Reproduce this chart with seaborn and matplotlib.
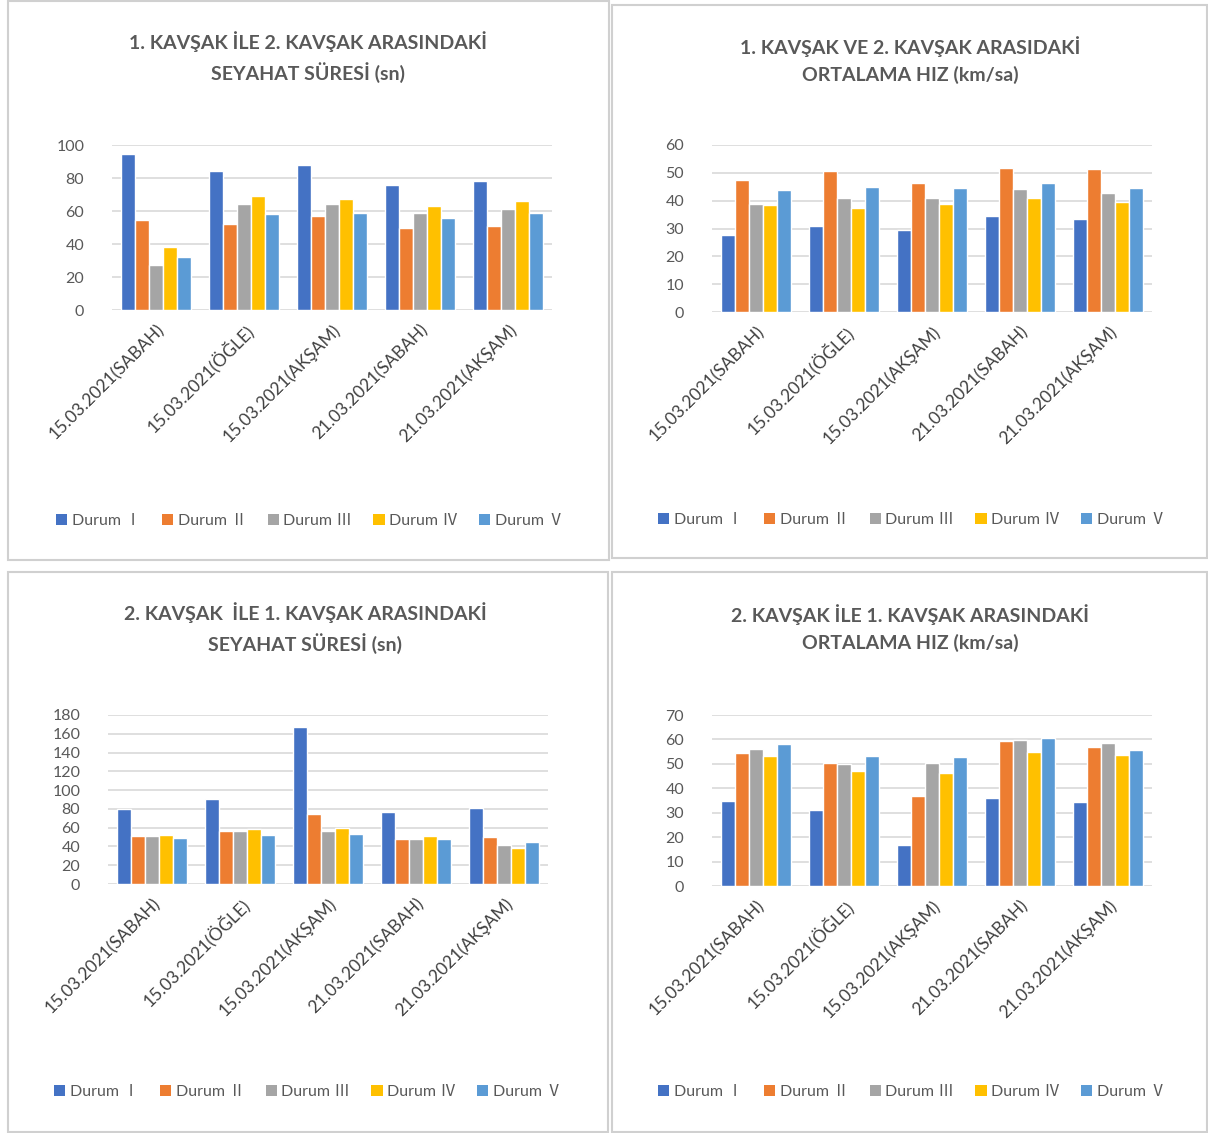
import matplotlib
matplotlib.use("Agg")
import matplotlib.pyplot as plt
import seaborn as sns
import pandas as pd
from matplotlib.patches import Rectangle, Patch

sns.set_theme(style="white")
plt.rcParams['font.family'] = ['Lato', 'Noto Sans CJK JP', 'DejaVu Sans']

categories = ["15.03.2021(SABAH)", "15.03.2021(ÖĞLE)", "15.03.2021(AKŞAM)",
              "21.03.2021(SABAH)", "21.03.2021(AKŞAM)"]
series_names = ["Durum Ⅰ", "Durum Ⅱ", "Durum Ⅲ", "Durum Ⅳ", "Durum Ⅴ"]
colors = ["#4472C4", "#ED7D31", "#A5A5A5", "#FFC000", "#5B9BD5"]

# Panel 1: travel time 1 -> 2 (sn); rows = Durum I..V, columns = categories
time_12 = [
    [94.5, 84, 88, 76, 78],
    [54.5, 52, 57, 50, 51],
    [27, 64, 64, 59, 61],
    [38, 69, 67, 63, 66],
    [32, 58, 59, 56, 59],
]
# Panel 2: average speed 1 -> 2 (km/sa)
speed_12 = [
    [27.5, 31, 29.5, 34.5, 33.3],
    [47.6, 50.6, 46.4, 51.8, 51.2],
    [38.7, 40.8, 40.8, 44.3, 42.9],
    [38.3, 37.5, 38.7, 41, 39.6],
    [44, 45, 44.6, 46.4, 44.6],
]
# Panel 3: travel time 2 -> 1 (sn)
time_21 = [
    [80, 91, 167, 77, 80.7],
    [51.6, 56, 75, 47.4, 49.8],
    [51, 56, 56, 47.4, 42],
    [52, 58.6, 59.6, 51, 38.6],
    [49, 52.6, 53.7, 47.4, 44.6],
]
# Panel 4: average speed 2 -> 1 (km/sa)
speed_21 = [
    [35, 31, 16.8, 36, 34.4],
    [54.5, 50.4, 37, 59.3, 56.8],
    [55.9, 50, 50.4, 59.7, 58.4],
    [53.4, 47, 46.3, 54.8, 53.8],
    [58, 53.4, 53, 60.7, 55.5],
]

titles = [
    "1. KAVŞAK İLE 2. KAVŞAK ARASINDAKİ\nSEYAHAT SÜRESİ (sn)",
    "1. KAVŞAK VE 2. KAVŞAK ARASIDAKİ\nORTALAMA HIZ (km/sa)",
    "2. KAVŞAK  İLE 1. KAVŞAK ARASINDAKİ\nSEYAHAT SÜRESİ (sn)",
    "2. KAVŞAK İLE 1. KAVŞAK ARASINDAKİ\nORTALAMA HIZ (km/sa)",
]
ymax = [100, 60, 180, 70]
ystep = [20, 10, 20, 10]

W, H = 1208, 1133
fig = plt.figure(figsize=(W / 100, H / 100), dpi=100)

def fx(px):
    return px / W

def fy(py):
    return 1 - py / H

# panel frames (px): x0, y0, x1, y1
frames = [(8, 1, 609, 560), (612, 5, 1207, 558), (8, 572, 608, 1132), (612, 572, 1207, 1132)]
# plot areas (px): x0, y0(top), x1, y1(bottom)
areas = [(112, 145, 552, 310), (712, 145, 1152, 312), (108, 715, 548, 884), (712, 715, 1152, 886)]
title_pos = [(308, 57), (910, 60), (305, 628), (910, 628)]
legend_y = [521, 520, 1092, 1092]
legend_x = [310, 912, 308, 912]

GRAY = "#595959"

for i, data in enumerate([time_12, speed_12, time_21, speed_21]):
    fr = frames[i]
    fig.patches.append(Rectangle((fx(fr[0]), fy(fr[3])), fx(fr[2] - fr[0]), (fr[3] - fr[1]) / H,
                                 transform=fig.transFigure, fill=False,
                                 edgecolor="#D0D0D0", linewidth=1.5))
    a = areas[i]
    ax = fig.add_axes([fx(a[0]), fy(a[3]), fx(a[2] - a[0]), (a[3] - a[1]) / H])
    rows = []
    for s, name in enumerate(series_names):
        for c, cat in enumerate(categories):
            rows.append({"cat": cat, "durum": name, "val": data[s][c]})
    df = pd.DataFrame(rows)
    sns.barplot(data=df, x="cat", y="val", hue="durum", palette=colors,
                order=categories, hue_order=series_names, width=0.8,
                saturation=1, ax=ax, legend=False)
    ax.set_ylim(0, ymax[i])
    ax.set_yticks(range(0, ymax[i] + 1, ystep[i]))
    ax.yaxis.grid(True, color="#D9D9D9", linewidth=1.2)
    ax.set_axisbelow(True)
    for sp in ax.spines.values():
        sp.set_visible(False)
    ax.set_xlabel("")
    ax.set_ylabel("")
    ax.tick_params(axis="y", length=0, labelsize=11.5, labelcolor=GRAY, pad=20)
    ax.tick_params(axis="x", length=0, labelsize=12.5, labelcolor="#404040", pad=8)
    for lab in ax.get_xticklabels():
        lab.set_rotation(45)
        lab.set_ha("right")
        lab.set_va("top")
        lab.set_rotation_mode("anchor")
    fig.text(fx(title_pos[i][0]), fy(title_pos[i][1]), titles[i], ha="center", va="center",
             fontsize=14, fontweight="bold", color=GRAY, linespacing=1.55)
    handles = [Patch(facecolor=col, edgecolor="none") for col in colors]
    fig.legend(handles, series_names, loc="center",
               bbox_to_anchor=(fx(legend_x[i]), fy(legend_y[i])), ncol=5,
               frameon=False, fontsize=11.5, labelcolor=GRAY,
               handlelength=0.7, handleheight=0.7, handletextpad=0.3,
               columnspacing=1.3)

fig.savefig("out.png", dpi=100, facecolor="white")
